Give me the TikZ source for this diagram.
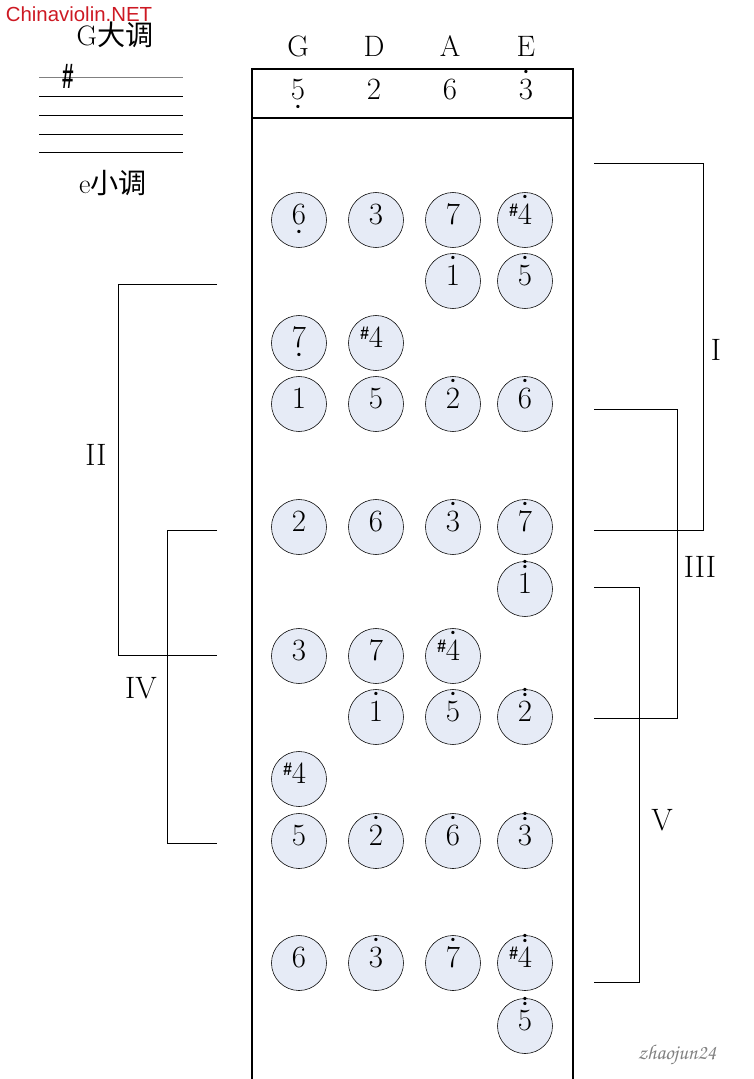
\documentclass[tikz,border=0pt]{standalone}
\usepackage{fontspec}
\newfontfamily\cjk{Noto Sans CJK SC}
\newfontfamily\wmfont{Liberation Sans}

\definecolor{padfill}{RGB}{230,235,246}
\definecolor{wmred}{RGB}{205,25,35}

% dots above / below a degree, sharp in front
\newcommand{\dt}{{\fontsize{8}{8}\selectfont\textbullet}}
\newcommand{\hdot}[1]{\ooalign{#1\cr\hidewidth\raisebox{0.81em}{\dt}\hidewidth\cr}}
\newcommand{\hddot}[1]{\ooalign{#1\cr\hidewidth\raisebox{0.79em}{\dt}\hidewidth\cr\hidewidth\raisebox{0.93em}{\dt}\hidewidth\cr}}
\newcommand{\ldot}[1]{\ooalign{#1\cr\hidewidth\raisebox{-0.32em}{\dt}\hidewidth\cr}}
\newcommand{\shp}[1]{\llap{\raisebox{0.26em}{\wmfont\bfseries\fontsize{13}{13}\selectfont\scalebox{0.85}[1]{\#}}}#1}

\tikzset{
	note/.style={circle, draw, thin, fill=padfill, minimum size=1.375cm, inner sep=0pt,
		text height=0.64em, text depth=0pt, font=\fontsize{22}{24}\selectfont},
	head/.style={inner sep=0pt, font=\fontsize{21}{24}\selectfont},
	open/.style={inner sep=0pt, text height=0.64em, text depth=0pt, font=\fontsize{22}{24}\selectfont},
	roman/.style={inner sep=0pt, font=\fontsize{22}{24}\selectfont},
	bracket/.style={draw, line width=0.7pt},
	board/.style={draw, line width=1.3pt}
}

\begin{document}
\begin{tikzpicture}[x=0.025cm, y=-0.025cm]
	\useasboundingbox (0,0) rectangle (754,1079);
	
	% key of the piece
	\node[text=wmred, inner sep=0pt, font=\wmfont\fontsize{14.5}{16}\selectfont] (wm) at (79,14) {Chinaviolin.NET};
	\node[inner sep=0pt, font=\fontsize{20}{22}\selectfont] (major) at (115,35) {G\cjk 大调};
	\node[inner sep=0pt, font=\fontsize{20}{22}\selectfont] (minor) at (113,183) {e\cjk 小调};
	\draw[gray, line width=0.7pt] (39,77) -- (183,77);
	\draw[line width=0.7pt] (39,96) -- (183,96);
	\draw[line width=0.7pt] (39,115) -- (183,115);
	\draw[line width=0.7pt] (39,134) -- (183,134);
	\draw[line width=0.7pt] (39,152) -- (183,152);
	\node[inner sep=0pt, font=\wmfont\bfseries\fontsize{21}{23}\selectfont] (key) at (68,76) {\scalebox{0.7}[1.2]{\#}};
	
	% fingerboard
	\draw[board] (252,1079) -- (252,69) -- (573,69) -- (573,1079);
	\draw[board] (252,118) -- (573,118);
	\node[head] (hG) at (298,46) {G};
	\node[head] (hD) at (374,46) {D};
	\node[head] (hA) at (450,46) {A};
	\node[head] (hE) at (526,46) {E};
	\node[open] (sG) at (298,95) {\ldot{5}};
	\node[open] (sD) at (374,95) {2};
	\node[open] (sA) at (450,95) {6};
	\node[open] (sE) at (526,95) {\hdot{3}};
	
	\node[note] (g1) at (299,220) {\ldot{6}};
	\node[note] (d1) at (376,220) {3};
	\node[note] (a1) at (453,220) {7};
	\node[note] (e1) at (525,220) {\shp{\hdot{4}}};
	\node[note] (a2) at (453,281) {\hdot{1}};
	\node[note] (e2) at (525,281) {\hdot{5}};
	\node[note] (g3) at (299,343) {\ldot{7}};
	\node[note] (d3) at (376,343) {\shp{4}};
	\node[note] (g4) at (299,404) {1};
	\node[note] (d4) at (376,404) {5};
	\node[note] (a4) at (453,404) {\hdot{2}};
	\node[note] (e4) at (525,404) {\hdot{6}};
	\node[note] (g5) at (299,527) {2};
	\node[note] (d5) at (376,527) {6};
	\node[note] (a5) at (453,527) {\hdot{3}};
	\node[note] (e5) at (525,527) {\hdot{7}};
	\node[note] (e6) at (525,589) {\hddot{1}};
	\node[note] (g7) at (299,656) {3};
	\node[note] (d7) at (376,656) {7};
	\node[note] (a7) at (453,656) {\shp{\hdot{4}}};
	\node[note] (d8) at (376,717) {\hdot{1}};
	\node[note] (a8) at (453,717) {\hdot{5}};
	\node[note] (e8) at (525,717) {\hddot{2}};
	\node[note] (g9) at (299,779) {\shp{4}};
	\node[note] (g10) at (299,841) {5};
	\node[note] (d10) at (376,841) {\hdot{2}};
	\node[note] (a10) at (453,841) {\hdot{6}};
	\node[note] (e10) at (525,841) {\hddot{3}};
	\node[note] (g11) at (299,963) {6};
	\node[note] (d11) at (376,963) {\hdot{3}};
	\node[note] (a11) at (453,963) {\hdot{7}};
	\node[note] (e11) at (525,963) {\shp{\hddot{4}}};
	\node[note] (e12) at (525,1026) {\hddot{5}};
	
	% positions
	\coordinate (p1s) at (594,163); \coordinate (p1e) at (594,530);
	\coordinate (p2s) at (217,284); \coordinate (p2e) at (217,655);
	\coordinate (p3s) at (594,409); \coordinate (p3e) at (594,718);
	\coordinate (p4s) at (217,530); \coordinate (p4e) at (217,843);
	\coordinate (p5s) at (594,587); \coordinate (p5e) at (594,982);
	\draw[bracket] (p1s) -- ++(109,0) |- (p1e);
	\draw[bracket] (p2s) -- ++(-99,0) |- (p2e);
	\draw[bracket] (p3s) -- ++(83,0) |- (p3e);
	\draw[bracket] (p4s) -- ++(-50,0) |- (p4e);
	\draw[bracket] (p5s) -- ++(45,0) |- (p5e);
	\node[roman] (r1) at (716,350) {I};
	\node[roman] (r2) at (96,455) {II};
	\node[roman] (r3) at (700,567) {III};
	\node[roman] (r4) at (141,688) {IV};
	\node[roman] (r5) at (662,820) {V};
	
	\node[text=gray, inner sep=0pt, font=\fontsize{15}{17}\usefont{OT1}{pzc}{mb}{it}] (sig) at (677,1055) {zhaojun24};
\end{tikzpicture}
\end{document}
